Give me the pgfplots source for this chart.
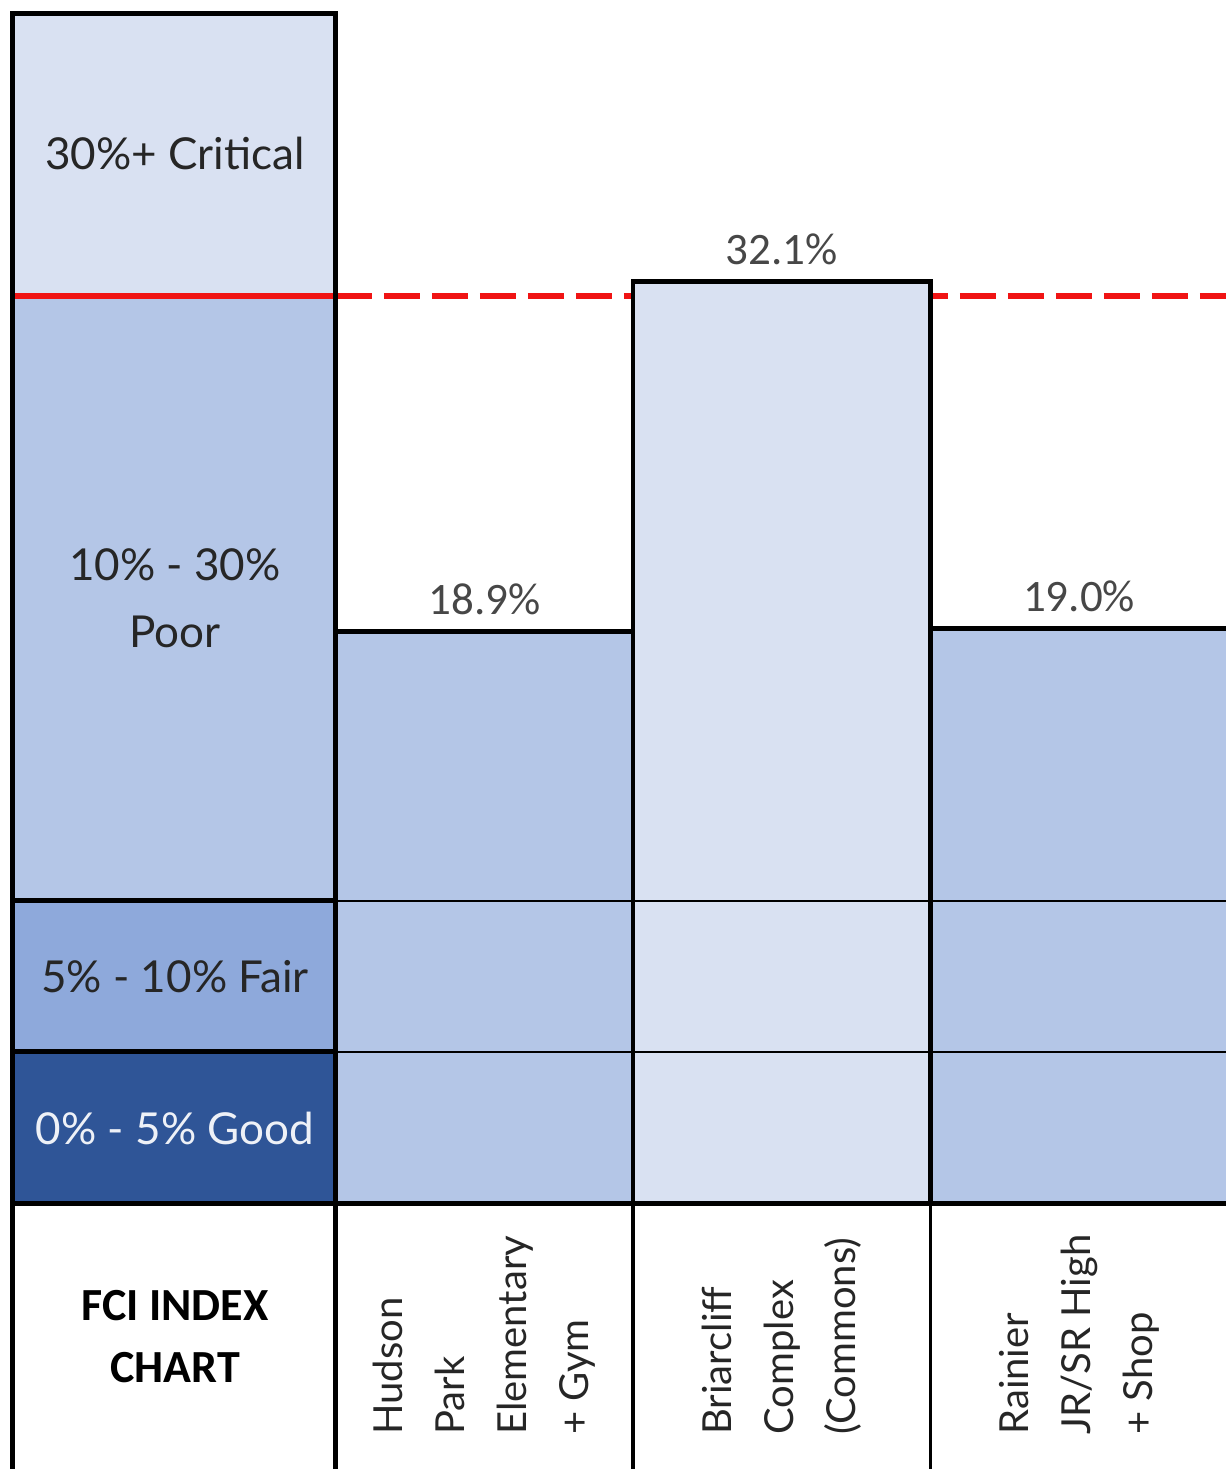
\documentclass[border=0pt]{standalone}
\usepackage{pgfplots}
\pgfplotsset{compat=1.18}
\usepackage{fontspec}
\setmainfont{Lato}
\newfontfamily\carlito{Carlito}
\definecolor{critical}{HTML}{D9E1F2}
\definecolor{poor}{HTML}{B4C6E7}
\definecolor{fair}{HTML}{8EA9DB}
\definecolor{good}{HTML}{2F5597}
\definecolor{fcired}{HTML}{F01414}
\definecolor{txt}{HTML}{262626}
\begin{document}
\begin{tikzpicture}
% left/right edges of the FCI legend column, top of the frame
\def\xl{-0.589}
\def\xr{0.5}
\def\yt{72.45}
\def\yb{-8.79}
\begin{axis}[
    scale only axis,
    width=613pt, height=734.5pt,
    hide axis,
    xmin=-0.6297, xmax=3.494,
    ymin=-8.793, ymax=74.41,
    % above 30% the scale is squeezed, as in the original sheet
    y coord trafo/.code={\pgfmathparse{#1>30 ? 30+(#1-30)*0.22 : #1}},
    clip=true,
    valuelbl/.style={
        point meta=explicit,
        nodes near coords={\pgfmathprintnumber[fixed,fixed zerofill,precision=1,assume math mode=true]{\pgfplotspointmeta}\%},
        every node near coord/.append style={font=\carlito\fontsize{22.5}{26}\selectfont, text=txt!85, anchor=south, inner sep=0pt, yshift=7pt}},
]
\coordinate (SW) at (rel axis cs:0,0);
\coordinate (NE) at (rel axis cs:1,1);

% legend bands
\addplot[fill=critical, draw=none] coordinates {(\xl,30) (\xr,30) (\xr,\yt) (\xl,\yt)} --cycle;
\addplot[fill=poor, draw=none] coordinates {(\xl,10) (\xr,10) (\xr,30) (\xl,30)} --cycle;
\addplot[fill=fair, draw=none] coordinates {(\xl,5) (\xr,5) (\xr,10) (\xl,10)} --cycle;
\addplot[fill=good, draw=none] coordinates {(\xl,0) (\xr,0) (\xr,5) (\xl,5)} --cycle;

% 30% threshold
\addplot[fcired, line width=3pt] coordinates {(\xl,30) (\xr,30)};
\addplot[fcired, line width=3pt, dash pattern=on 18pt off 6pt] coordinates {(\xr,30) (3.6,30)};

% bars
\addplot[ybar, bar width=1, bar shift=0pt, fill=poor, draw=black, line width=2.25pt, valuelbl]
    coordinates {(1,18.9) [18.9] (3,19.0) [19.0]};
\addplot[ybar, bar width=1, bar shift=0pt, fill=critical, draw=black, line width=2.25pt, valuelbl]
    coordinates {(2,32.1) [32.1]};

% thin band lines across the bars
\addplot[black, line width=1pt] coordinates {(\xr,5) (3.6,5)};
\addplot[black, line width=1pt] coordinates {(\xr,10) (3.6,10)};

% thick band lines in legend column and base line
\addplot[black, line width=2.5pt] coordinates {(\xl,5) (\xr,5)};
\addplot[black, line width=2.5pt] coordinates {(\xl,10) (\xr,10)};
\addplot[black, line width=2.5pt] coordinates {(\xl,0) (3.6,0)};

% frame
\addplot[black, line width=2.5pt, line join=miter] coordinates {(\xl,\yb) (\xl,\yt) (\xr,\yt) (\xr,\yb)};
\addplot[black, line width=1.75pt] coordinates {(1.5,\yb) (1.5,0)};
\addplot[black, line width=1.75pt] coordinates {(2.5,\yb) (2.5,0)};

% legend texts
\node[text=txt, font=\fontsize{22}{26}\selectfont] at (axis cs:-0.041,51.4) {30\%+ Critical};
\node[text=txt, font=\fontsize{22}{33.5}\selectfont, align=center] at (axis cs:-0.041,20) {10\% - 30\%\\Poor};
\node[text=txt, font=\fontsize{22}{26}\selectfont] at (axis cs:-0.041,7.47) {5\% - 10\% Fair};
\node[text=white!92!good, font=\fontsize{22}{26}\selectfont] at (axis cs:-0.041,2.48) {0\% - 5\% Good};
\node[text=black, font=\carlito\bfseries\fontsize{23}{31}\selectfont, align=center] at (axis cs:-0.041,-4.40) {FCI INDEX\\CHART};

% category labels
\node[text=txt, font=\fontsize{20}{31}\selectfont, align=left, rotate=90, anchor=west, inner sep=0pt]
    at (axis cs:1,-7.67) {Hudson\\Park\\Elementary\\+ Gym};
\node[text=txt, font=\fontsize{20}{31}\selectfont, align=left, rotate=90, anchor=west, inner sep=0pt]
    at (axis cs:2,-7.67) {Briarcliff\\Complex\\(Commons)};
\node[text=txt, font=\fontsize{20}{31}\selectfont, align=left, rotate=90, anchor=west, inner sep=0pt]
    at (axis cs:3,-7.67) {Rainier\\JR/SR High\\+ Shop};
\end{axis}
\pgfresetboundingbox
\path (SW) rectangle (NE);
\end{tikzpicture}
\end{document}
